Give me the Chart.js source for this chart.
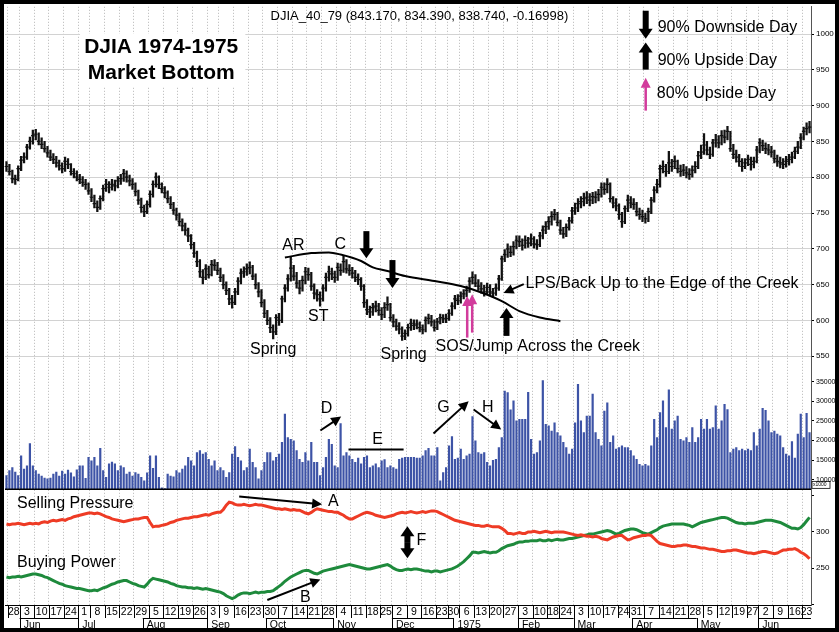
<!DOCTYPE html>
<html>
<head>
<meta charset="utf-8">
<script src="https://cdn.jsdelivr.net/npm/chart.js@4.4.1/dist/chart.umd.min.js"></script>
<style>
html, body { margin: 0; padding: 0; background: #fff; }
canvas { display: block; }
</style>
</head>
<body>
<canvas id="chart" width="839" height="632"></canvas>
<script>
// trading calendar
const firstDay = '1974-05-24';
const lastDay = '1975-06-25';
const holidays = ['1974-05-27', '1974-07-04', '1974-09-02', '1974-11-28', '1974-12-25',
  '1975-01-01', '1975-02-17', '1975-03-28', '1975-05-26'];
const monthNames = ['1975', 'Feb', 'Mar', 'Apr', 'May', 'Jun', 'Jul', 'Aug', 'Sep', 'Oct', 'Nov', 'Dec'];

// DJIA daily bars
const closes = [
  815, 808, 798, 797, 812, 824, 828, 842, 850, 858,
  860, 850, 846, 840, 834, 828, 825, 820, 816, 812,
  822, 818, 808, 805, 800, 797, 793, 790, 781, 772,
  763, 758, 770, 784, 790, 786, 790, 788, 795, 798,
  805, 800, 795, 790, 780, 768, 758, 752, 762, 776,
  790, 800, 790, 784, 778, 770, 762, 754, 747, 738,
  732, 726, 718, 706, 694, 682, 668, 660, 672, 664,
  678, 677, 670, 660, 650, 642, 630, 625, 640, 655,
  666, 668, 672, 674, 662, 650, 640, 625, 610, 600,
  590, 584, 604, 600, 630, 645, 658, 673, 662, 652,
  645, 656, 668, 664, 648, 638, 636, 630, 645, 660,
  668, 665, 660, 674, 670, 682, 672, 670, 666, 660,
  657, 648, 625, 615, 612, 618, 620, 614, 608, 618,
  622, 604, 598, 592, 588, 578, 582, 590, 596, 593,
  595, 590, 587, 600, 603, 598, 590, 598, 604, 602,
  603, 610, 620, 630, 628, 634, 637, 642, 655, 660,
  652, 648, 644, 640, 646, 640, 638, 645, 658, 686,
  692, 700, 695, 703, 712, 710, 705, 712, 708, 714,
  707, 706, 718, 726, 731, 738, 745, 748, 737, 726,
  721, 730, 739, 753, 757, 763, 766, 770, 772, 768,
  773, 772, 776, 786, 783, 790, 770, 764, 760, 748,
  738, 756, 768, 764, 762, 752, 748, 745, 742, 752,
  768, 782, 790, 812, 815, 808, 820, 815, 822, 812,
  808, 810, 806, 804, 810, 815, 830, 835, 845, 838,
  832, 848, 852, 848, 858, 856, 864, 840, 832, 828,
  822, 815, 820, 825, 818, 822, 838, 848, 844, 840,
  838, 835, 826, 822, 820, 818, 822, 825, 828, 836,
  842, 855, 864, 868, 870
];
const highs = [
  822, 818, 810, 803, 816, 829, 834, 846, 856, 866,
  867, 862, 855, 850, 843, 838, 833, 829, 824, 820,
  828, 826, 819, 812, 809, 804, 801, 797, 792, 784,
  775, 767, 774, 789, 797, 794, 797, 796, 801, 804,
  811, 809, 803, 798, 792, 782, 771, 761, 767, 781,
  795, 806, 802, 792, 787, 781, 773, 765, 757, 750,
  742, 736, 729, 720, 709, 697, 685, 671, 678, 676,
  684, 685, 681, 673, 664, 654, 645, 635, 645, 660,
  672, 675, 679, 682, 677, 665, 653, 643, 629, 614,
  604, 594, 608, 610, 634, 650, 664, 688, 677, 667,
  656, 662, 674, 673, 667, 651, 643, 640, 650, 666,
  676, 673, 669, 680, 679, 691, 685, 678, 674, 670,
  665, 660, 650, 629, 620, 624, 627, 624, 618, 625,
  633, 624, 608, 602, 597, 591, 587, 595, 602, 601,
  601, 598, 594, 605, 609, 607, 601, 603, 609, 608,
  609, 615, 625, 635, 636, 640, 643, 648, 660, 668,
  664, 657, 653, 649, 652, 650, 645, 651, 663, 690,
  699, 707, 704, 710, 718, 718, 714, 718, 716, 721,
  717, 713, 723, 732, 738, 745, 752, 755, 751, 740,
  730, 735, 744, 758, 764, 770, 773, 778, 780, 777,
  779, 780, 783, 792, 792, 798, 792, 773, 770, 763,
  751, 760, 775, 773, 770, 765, 757, 754, 750, 757,
  772, 787, 797, 817, 823, 818, 836, 825, 830, 824,
  817, 818, 815, 812, 816, 822, 836, 845, 861, 850,
  842, 853, 860, 858, 865, 866, 871, 864, 846, 838,
  832, 826, 826, 831, 828, 828, 843, 854, 852, 848,
  846, 843, 838, 831, 828, 826, 829, 832, 835, 842,
  850, 861, 870, 876, 878
];
const lows = [
  808, 803, 792, 790, 795, 809, 820, 825, 839, 846,
  852, 845, 840, 835, 828, 823, 819, 814, 810, 806,
  808, 812, 803, 799, 795, 791, 787, 783, 776, 766,
  757, 752, 755, 767, 780, 778, 782, 781, 785, 790,
  794, 793, 788, 783, 774, 762, 751, 745, 749, 758,
  772, 786, 784, 778, 771, 764, 756, 748, 740, 732,
  725, 719, 710, 700, 688, 675, 660, 651, 657, 659,
  662, 670, 664, 654, 644, 636, 622, 617, 622, 636,
  651, 660, 663, 665, 657, 644, 633, 619, 604, 594,
  583, 574, 580, 593, 597, 626, 641, 655, 656, 645,
  637, 641, 651, 656, 642, 630, 627, 620, 627, 641,
  655, 657, 653, 656, 663, 667, 666, 663, 659, 654,
  650, 642, 618, 608, 604, 607, 612, 607, 601, 604,
  614, 599, 591, 586, 581, 572, 573, 578, 586, 587,
  588, 584, 581, 584, 595, 592, 585, 587, 595, 597,
  597, 600, 607, 616, 622, 624, 630, 633, 639, 651,
  647, 642, 638, 634, 636, 635, 632, 635, 642, 656,
  682, 688, 689, 691, 700, 703, 698, 701, 702, 704,
  701, 699, 703, 714, 721, 727, 733, 740, 732, 720,
  715, 717, 726, 736, 748, 752, 757, 760, 763, 760,
  763, 764, 767, 772, 776, 778, 765, 757, 753, 741,
  730, 735, 752, 757, 755, 746, 741, 738, 736, 738,
  749, 765, 778, 786, 806, 801, 805, 808, 812, 806,
  801, 802, 799, 797, 800, 806, 812, 826, 832, 831,
  826, 829, 842, 841, 845, 848, 852, 836, 826, 821,
  815, 808, 812, 816, 810, 813, 820, 834, 837, 833,
  831, 828, 820, 815, 813, 812, 814, 817, 820, 826,
  833, 840, 852, 859, 862
];
// volume, x1000 shares
const volumes = [
  11100, 12400, 13200, 12000, 11100, 16200, 12800, 13600, 19300, 13600,
  12400, 11500, 11000, 10500, 10300, 10500, 11500, 12000, 11000, 12300,
  11500, 12500, 11800, 10800, 12600, 13600, 13600, 10400, 15800, 14900,
  15800, 13600, 18100, 12400, 10700, 14100, 14600, 14100, 12400, 13600,
  13200, 11500, 12000, 11000, 11900, 11500, 10700, 9800, 11800, 16200,
  13000, 16200, 10700, 8000, 7800, 11500, 11000, 10800, 12400, 11800,
  12800, 13600, 15800, 14900, 13600, 17000, 17500, 16600, 17000, 15300,
  13600, 14900, 12400, 13200, 12400, 10700, 11900, 16600, 18500, 15800,
  14900, 12400, 13200, 17900, 14500, 13200, 10300, 12400, 14500, 17000,
  17000, 14900, 15800, 16600, 19600, 26800, 20800, 20400, 20000, 17500,
  15300, 14500, 17000, 14900, 19600, 14500, 14500, 11100, 13200, 15800,
  20400, 19100, 13600, 13200, 24400, 16200, 17000, 16200, 15300, 14500,
  15600, 14100, 15800, 16200, 13200, 13600, 14100, 13200, 14900, 15200,
  13200, 13600, 13200, 12800, 15300, 15600, 15800, 15800, 15800, 15800,
  15600, 15600, 16200, 17500, 18100, 16200, 16200, 18300, 9800, 11900,
  13200, 18700, 21100, 15300, 15600, 17900, 15300, 16200, 16600, 26200,
  20000, 17000, 16600, 17000, 14500, 13600, 15000, 15300, 18300, 20800,
  32700, 32300, 27900, 30200, 25100, 25500, 25500, 25500, 32400, 20400,
  16600, 17000, 20000, 35400, 24200, 23800, 22500, 24600, 22100, 21300,
  19600, 18300, 16600, 17900, 24600, 34400, 25100, 22100, 26300, 26300,
  31900, 22100, 20400, 18700, 27600, 29700, 19600, 21300, 17900, 18300,
  18700, 18300, 18300, 17500, 16200, 15300, 14000, 13600, 14000, 13600,
  18700, 25500, 20800, 27200, 30200, 23400, 33000, 23000, 25100, 26300,
  20400, 20000, 20800, 19600, 23400, 19600, 20800, 25500, 23000, 25500,
  23000, 23400, 28900, 23000, 25100, 29300, 28000, 17000, 17900, 18300,
  17500, 17900, 17500, 17900, 17500, 22100, 18700, 23000, 28300, 27800,
  25100, 22100, 22500, 21700, 21300, 18300, 16600, 16200, 19800, 15600,
  21700, 26800, 20800, 27000, 22100
];
// indicator panel
const sellingPressure = [
  311, 310, 311, 311, 312, 311, 310, 311, 312, 311,
  312, 311, 313, 314, 313, 315, 316, 315, 316, 317,
  316, 318, 319, 321, 322, 323, 324, 325, 326, 326,
  325, 326, 325, 323, 321, 320, 318, 317, 316, 315,
  314, 315, 316, 317, 318, 318, 319, 320, 320, 313,
  307, 308, 308, 309, 310, 311, 313, 314, 316, 317,
  318, 319, 319, 320, 321, 321, 322, 323, 324, 323,
  325, 326, 327, 327, 331, 337, 341, 340, 338, 337,
  337, 338, 337, 336, 337, 338, 337, 337, 336, 335,
  334, 333, 332, 332, 331, 332, 331, 330, 331, 330,
  330, 328, 326, 325, 327, 330, 332, 331, 330, 329,
  328, 328, 327, 327, 325, 323, 320, 318, 318, 320,
  322, 324, 326, 327, 326, 325, 323, 322, 321, 320,
  321, 322, 323, 325, 326, 327, 326, 327, 328, 327,
  326, 327, 328, 327, 328, 329, 329, 328, 326, 324,
  322, 320, 318, 316, 315, 314, 313, 312, 311, 310,
  309, 309, 308, 308, 309, 308, 307, 307, 307, 305,
  302, 298, 298, 297, 298, 299, 298, 298, 300, 300,
  301, 300, 299, 300, 301, 300, 299, 300, 300, 300,
  300, 299, 298, 297, 296, 295, 296, 295, 294, 294,
  293, 294, 293, 291, 290, 289, 291, 293, 294, 295,
  295, 292, 289, 290, 292, 293, 294, 295, 295, 296,
  295, 291, 287, 284, 283, 282, 281, 280, 280, 281,
  281, 282, 282, 281, 280, 280, 279, 278, 278, 277,
  276, 276, 275, 274, 273, 273, 274, 274, 275, 275,
  274, 273, 272, 271, 271, 270, 271, 272, 273, 273,
  272, 271, 270, 271, 273, 275, 275, 276, 276, 277,
  275, 272, 270, 267, 263
];
const buyingPower = [
  238, 237, 238, 238, 239, 238, 239, 240, 241, 242,
  242, 241, 240, 238, 237, 235, 233, 231, 229, 228,
  226, 225, 224, 223, 222, 222, 221, 220, 219, 219,
  220, 219, 221, 223, 224, 226, 228, 229, 231, 232,
  233, 233, 231, 229, 228, 226, 225, 224, 228, 233,
  236, 235, 234, 233, 232, 231, 229, 228, 226, 225,
  224, 224, 223, 223, 222, 223, 222, 221, 222, 221,
  220, 219, 218, 217, 215, 212, 210, 208, 210, 213,
  215, 216, 216, 215, 216, 217, 216, 217, 217, 218,
  218, 219, 222, 225, 228, 232, 235, 238, 240, 242,
  244, 246, 247, 247, 245, 243, 242, 244, 246, 247,
  248, 249, 250, 251, 252, 253, 254, 255, 254, 253,
  252, 251, 250, 249, 249, 250, 251, 252, 253, 254,
  255, 253, 250, 248, 247, 247, 248, 249, 248, 249,
  249, 248, 247, 246, 246, 245, 246, 246, 245, 246,
  247, 248, 249, 251, 253, 256, 259, 263, 267, 272,
  272, 271, 272, 273, 272, 271, 272, 272, 274, 277,
  279, 281, 282, 283, 285, 286, 286, 287, 287, 288,
  288, 288, 289, 288, 288, 289, 288, 289, 290, 289,
  289, 290, 291, 291, 292, 293, 294, 295, 296, 297,
  297, 298, 299, 300, 301, 302, 301, 299, 297, 298,
  300, 302, 303, 304, 304, 303, 301, 299, 298, 297,
  299, 301, 303, 306, 308, 309, 310, 311, 311, 311,
  311, 311, 310, 309, 307, 309, 311, 313, 314, 315,
  316, 317, 318, 319, 320, 320, 319, 317, 315, 313,
  312, 312, 311, 312, 312, 312, 313, 314, 315, 316,
  316, 316, 315, 314, 313, 311, 309, 307, 305, 305,
  304, 306, 310, 315, 320
];
// hand-drawn "creek" line
const creekIdx = [95, 104, 110, 114, 121, 125, 130, 136, 146, 155, 162, 169, 175, 182, 189];
const creekVal = [688, 694, 695, 692, 683, 674, 669, 662, 655, 648, 639, 627, 613, 604, 599];

const priceTicks = [550, 600, 650, 700, 750, 800, 850, 900, 950, 1000];
const volTicks = [10000, 15000, 20000, 25000, 30000, 35000];
const indTicks = [200, 250, 300, 350];
const indTickLabels = [250, 300];

// build the trading day list
const dates = [];
(function () {
  const d = new Date(firstDay + 'T00:00:00Z');
  const end = new Date(lastDay + 'T00:00:00Z');
  while (d <= end) {
    const w = d.getUTCDay();
    const s = d.toISOString().slice(0, 10);
    if (w > 0 && w < 6 && !holidays.includes(s)) dates.push(s);
    d.setUTCDate(d.getUTCDate() + 1);
  }
})();
const dayOfWeek = s => new Date(s + 'T00:00:00Z').getUTCDay();
const weekStarts = [];
const monthStarts = [];
dates.forEach((s, i) => {
  if (i > 0 && dayOfWeek(s) < dayOfWeek(dates[i - 1])) weekStarts.push(i);
  if (i > 0 && s.slice(5, 7) !== dates[i - 1].slice(5, 7)) monthStarts.push(i);
});
const weekSet = new Set(weekStarts);

const ranges = lows.map((l, i) => [l, highs[i]]);
const creek = dates.map(() => null);
creekIdx.forEach((ix, k) => { creek[ix] = creekVal[k]; });

const FONT = "'Liberation Sans', Arial, Helvetica, sans-serif";
Chart.defaults.font.family = FONT;
Chart.defaults.color = '#000';

// annotations, placed in data units
const notes = [
  { t: 'DJIA_40_79 (843.170, 834.390, 838.740, -0.16998)', i: 140.9, ax: 'yPrice', v: 1024, size: 13, align: 'center' },
  { t: 'AR', i: 97.9, ax: 'yPrice', v: 705, size: 16, align: 'center' },
  { t: 'C', i: 113.9, ax: 'yPrice', v: 706.5, size: 16, align: 'center' },
  { t: 'ST', i: 106.4, ax: 'yPrice', v: 605, size: 16, align: 'center' },
  { t: 'Spring', i: 91, ax: 'yPrice', v: 559, size: 16, align: 'center' },
  { t: 'Spring', i: 135.5, ax: 'yPrice', v: 552, size: 16, align: 'center' },
  { t: 'SOS/Jump Across the Creek', i: 146.4, ax: 'yPrice', v: 563, size: 16, align: 'left' },
  { t: 'LPS/Back Up to the Edge of the Creek', i: 177.1, ax: 'yPrice', v: 651, size: 16, align: 'left' },
  { t: '90% Downside Day', i: 222.2, ax: 'yPrice', v: 1009, size: 16, align: 'left' },
  { t: '90% Upside Day', i: 222.2, ax: 'yPrice', v: 963, size: 16, align: 'left' },
  { t: '80% Upside Day', i: 221.9, ax: 'yPrice', v: 917, size: 16, align: 'left' },
  { t: 'D', i: 109.2, ax: 'yVol', v: 28150, size: 16, align: 'center' },
  { t: 'E', i: 126.6, ax: 'yVol', v: 20250, size: 16, align: 'center' },
  { t: 'G', i: 149.1, ax: 'yVol', v: 28480, size: 16, align: 'center' },
  { t: 'H', i: 164.2, ax: 'yVol', v: 28480, size: 16, align: 'center' },
  { t: 'Selling Pressure', i: 3.6, ax: 'yInd', v: 339.4, size: 16, align: 'left' },
  { t: 'Buying Power', i: 3.6, ax: 'yInd', v: 258.4, size: 16, align: 'left' },
  { t: 'A', i: 111.5, ax: 'yInd', v: 341.2, size: 16, align: 'center' },
  { t: 'B', i: 102, ax: 'yInd', v: 209, size: 16, align: 'center' },
  { t: 'F', i: 141.6, ax: 'yInd', v: 288.6, size: 16, align: 'center' }
];
// [fromIndex, fromValue, toIndex, toValue, axis, kind, color]
const arrows = [
  [218.1, 1032.5, 218.1, 993.5, 'yPrice', 'block', '#000'],
  [218.1, 950.3, 218.1, 988, 'yPrice', 'block', '#000'],
  [218.1, 893, 218.1, 939, 'yPrice', 'thin', '#d23c9c'],
  [122.8, 724.7, 122.8, 687, 'yPrice', 'block', '#000'],
  [131.7, 684.3, 131.7, 645.3, 'yPrice', 'block', '#000'],
  [170.6, 578.4, 170.6, 617.4, 'yPrice', 'block', '#000'],
  [157.2, 576, 157.2, 634, 'yPrice', 'thin', '#d23c9c'],
  [158.9, 583, 158.9, 636.5, 'yPrice', 'thin', '#d23c9c'],
  [176.5, 650.8, 169.6, 638.3, 'yPrice', 'line', '#000'],
  [107.1, 22550, 114.2, 26110, 'yVol', 'line', '#000'],
  [145.7, 21780, 157.7, 30000, 'yVol', 'line', '#000'],
  [159.4, 27920, 168.8, 22800, 'yVol', 'line', '#000'],
  [79.4, 349, 107.7, 338, 'yInd', 'line', '#000'],
  [89, 206.2, 107.1, 234.6, 'yInd', 'line', '#000'],
  [136.8, 286, 136.8, 307.8, 'yInd', 'block', '#000'],
  [136.8, 286, 136.8, 263.9, 'yInd', 'block', '#000']
];

function drawArrow(ctx, x1, y1, x2, y2, kind, color) {
  const shaft = kind === 'block' ? 6 : kind === 'thin' ? 2.5 : 2;
  const headL = 10;
  const headW = kind === 'block' ? 14 : 10;
  const ang = Math.atan2(y2 - y1, x2 - x1);
  const len = Math.hypot(x2 - x1, y2 - y1);
  ctx.save();
  ctx.translate(x1, y1);
  ctx.rotate(ang);
  ctx.fillStyle = color;
  ctx.fillRect(0, -shaft / 2, len - headL + 1, shaft);
  ctx.beginPath();
  ctx.moveTo(len, 0);
  ctx.lineTo(len - headL, -headW / 2);
  ctx.lineTo(len - headL, headW / 2);
  ctx.closePath();
  ctx.fill();
  ctx.restore();
}

const overlay = {
  id: 'overlay',
  afterDraw(chart) {
    const { ctx, chartArea: ca, scales } = chart;
    const xs = scales.x;
    const X = i => xs.getPixelForValue(i);
    const Y = (ax, v) => scales[ax].getPixelForValue(v);
    const half = (X(1) - X(0)) / 2;

    ctx.save();
    // panel divider above the indicator panel
    ctx.strokeStyle = '#000';
    ctx.lineWidth = 1.5;
    ctx.beginPath();
    ctx.moveTo(ca.left, scales.yInd.top);
    ctx.lineTo(ca.right, scales.yInd.top);
    ctx.stroke();

    // title box
    const tx = X(52.8);
    ctx.fillStyle = '#fff';
    ctx.fillRect(X(25.1), Y('yPrice', 1000), X(81.5) - X(25.1), Y('yPrice', 927) - Y('yPrice', 1000));
    ctx.fillStyle = '#000';
    ctx.font = 'bold 21px ' + FONT;
    ctx.textAlign = 'center';
    ctx.textBaseline = 'middle';
    ctx.fillText('DJIA 1974-1975', tx, Y('yPrice', 982));
    ctx.fillText('Market Bottom', tx, Y('yPrice', 945));

    notes.forEach(n => {
      ctx.font = n.size + 'px ' + FONT;
      ctx.textAlign = n.align;
      ctx.fillText(n.t, X(n.i), Y(n.ax, n.v));
    });
    arrows.forEach(a => {
      drawArrow(ctx, X(a[0]), Y(a[4], a[1]), X(a[2]), Y(a[4], a[3]), a[5], a[6]);
    });
    // line under E
    ctx.strokeStyle = '#000';
    ctx.lineWidth = 2;
    ctx.beginPath();
    ctx.moveTo(X(116.7), Y('yVol', 17710));
    ctx.lineTo(X(135.5), Y('yVol', 17710));
    ctx.stroke();

    // x1000 tag
    const vb = scales.yVol.bottom;
    ctx.lineWidth = 0.8;
    ctx.strokeRect(ca.right + 1, vb - 8, 18, 7);
    ctx.font = '5px ' + FONT;
    ctx.textAlign = 'left';
    ctx.fillText('x1000', ca.right + 2, vb - 4.5);

    // date axis
    const top = ca.bottom;
    ctx.lineWidth = 1;
    ctx.strokeStyle = '#000';
    ctx.font = '10.5px ' + FONT;
    ctx.textAlign = 'center';
    weekStarts.forEach((ix, k) => {
      const left = X(ix) - half;
      const right = k + 1 < weekStarts.length ? X(weekStarts[k + 1]) - half : ca.right;
      ctx.beginPath();
      ctx.moveTo(Math.round(left) + 0.5, top);
      ctx.lineTo(Math.round(left) + 0.5, top + 13);
      ctx.stroke();
      ctx.fillText(String(Number(dates[ix].slice(8, 10))), (left + right) / 2, top + 7.5);
    });
    ctx.textAlign = 'left';
    monthStarts.forEach((ix, k) => {
      const left = X(ix) - half;
      const right = k + 1 < monthStarts.length ? X(monthStarts[k + 1]) - half : ca.right;
      ctx.beginPath();
      ctx.moveTo(Math.round(left) + 0.5, top + 13);
      ctx.lineTo(Math.round(left) + 0.5, top + 24);
      ctx.stroke();
      if (k % 2 === 0) {
        ctx.beginPath();
        ctx.moveTo(left, top + 13.5);
        ctx.lineTo(right, top + 13.5);
        ctx.stroke();
      }
      const m = Number(dates[ix].slice(5, 7)) - 1;
      ctx.fillText(monthNames[m], left + 4, top + 20);
    });

    // outer frame
    ctx.lineWidth = 4;
    ctx.strokeRect(2, 2, chart.width - 4, chart.height - 4);
    ctx.restore();
  }
};

const rightAxis = (weight, min, max, tickList, labelList, size, grid) => ({
  position: 'right', stack: 'panels', stackWeight: weight, min, max,
  grid: Object.assign({ tickLength: 3, tickColor: '#000' }, grid),
  border: { color: '#555' },
  afterBuildTicks: s => { s.ticks = tickList.map(v => ({ value: v })); },
  ticks: {
    padding: 2, autoSkip: false, font: { size },
    callback: v => labelList.includes(v) ? String(v) : ''
  },
  afterFit: s => { s.width = 25; }
});

new Chart(document.getElementById('chart'), {
  type: 'bar',
  data: {
    labels: dates,
    datasets: [
      {
        type: 'line', data: creek, yAxisID: 'yPrice', borderColor: '#000', borderWidth: 2,
        pointRadius: 0, spanGaps: true, cubicInterpolationMode: 'monotone', order: 0
      },
      {
        type: 'bar', data: ranges, yAxisID: 'yPrice', backgroundColor: '#111',
        barThickness: 1.6, grouped: false, order: 2
      },
      {
        type: 'line', data: closes, yAxisID: 'yPrice', showLine: false, pointStyle: 'line',
        pointRadius: 1.8, pointBorderWidth: 1.2, pointBorderColor: '#111', pointHoverRadius: 0, order: 1
      },
      {
        type: 'bar', data: volumes, yAxisID: 'yVol', backgroundColor: '#3d53a6',
        barPercentage: 0.75, categoryPercentage: 1, grouped: false, order: 3
      },
      {
        type: 'line', data: sellingPressure, yAxisID: 'yInd', borderColor: '#ee3b25', borderWidth: 3,
        pointRadius: 0, tension: 0, order: 1
      },
      {
        type: 'line', data: buyingPower, yAxisID: 'yInd', borderColor: '#1e8a3c', borderWidth: 3,
        pointRadius: 0, tension: 0, order: 1
      }
    ]
  },
  options: {
    responsive: false,
    devicePixelRatio: 1,
    animation: false,
    layout: { padding: { left: 5, right: 3, top: 5, bottom: 4 } },
    plugins: { legend: { display: false }, tooltip: { enabled: false } },
    events: [],
    scales: {
      x: {
        type: 'category', offset: true,
        grid: {
          offset: true, drawTicks: false, lineWidth: 1,
          color: c => weekSet.has(c.index) ? '#b5b5b5' : 'rgba(0,0,0,0)'
        },
        border: { display: true, color: '#000', dash: [1, 2] },
        ticks: { display: false },
        afterFit: s => { s.height = 23; }
      },
      yPrice: rightAxis(367, 527, 1038, priceTicks, priceTicks, 8, { color: '#d2d2d2', lineWidth: 1 }),
      yVol: rightAxis(117, 7530, 37300, volTicks, volTicks, 7, { drawOnChartArea: false }),
      yInd: rightAxis(116, 199.3, 358.7, indTicks, indTickLabels, 8, { drawOnChartArea: false })
    }
  },
  plugins: [overlay]
});
</script>
</body>
</html>
